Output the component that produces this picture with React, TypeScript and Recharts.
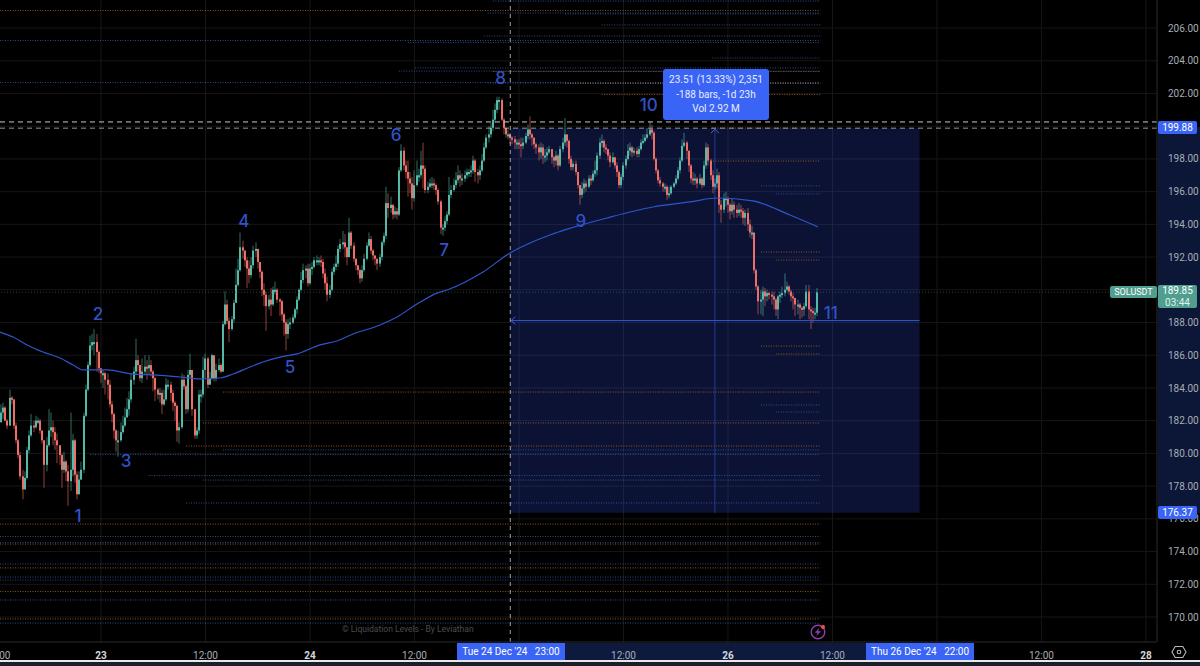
import {
  Bar,
  CartesianGrid,
  ComposedChart,
  Line,
  ReferenceArea,
  ReferenceDot,
  ReferenceLine,
  XAxis,
  YAxis,
} from 'recharts'

// SOLUSDT 15m closes, one row per 20 bars
const closes = [
  182.5,182.8,182.0,181.7,183.4,183.3,181.7,180.8,179.9,178.6,177.8,178.5,180.2,181.1,181.7,181.6,182.0,182.0,181.4,180.8,
  179.3,180.5,181.4,181.6,181.3,180.8,180.5,179.9,179.0,179.5,178.9,178.3,179.0,180.8,178.7,177.5,178.4,179.0,182.3,183.9,
  185.4,186.6,186.8,186.8,186.2,185.2,184.9,184.9,184.5,184.2,183.0,182.4,181.4,180.8,180.8,181.3,181.7,182.2,182.7,183.3,
  184.5,185.0,185.7,185.4,184.6,185.0,185.3,185.2,185.4,185.0,184.6,183.9,183.6,183.7,183.0,183.3,184.2,184.2,183.7,183.1,
  182.9,181.4,181.6,184.5,184.1,182.7,184.8,185.1,182.7,181.1,181.4,183.6,183.6,185.1,185.8,184.2,184.6,186.0,184.6,185.1,
  185.4,185.0,187.9,189.1,188.1,187.6,188.2,189.2,190.3,191.2,192.6,192.4,191.8,191.3,190.9,191.5,192.4,192.5,191.7,191.1,
  190.0,189.7,189.0,189.4,189.1,190.0,190.0,189.4,189.3,188.5,188.0,187.3,187.9,188.0,188.3,188.8,189.4,190.0,190.6,191.2,
  191.3,190.4,191.3,191.4,191.8,191.8,191.8,191.7,191.0,190.4,189.7,190.0,191.1,191.4,191.6,192.5,192.8,192.9,192.6,192.0,
  193.5,192.7,191.9,191.5,191.2,190.7,191.2,191.9,192.7,193.1,192.4,192.1,191.9,191.6,192.0,192.9,193.3,195.3,195.0,195.2,
  194.6,194.8,194.6,197.3,198.5,197.6,197.2,196.8,196.5,195.6,196.4,197.0,197.0,197.6,197.4,196.1,196.3,196.5,196.5,196.4,
  196.1,195.4,193.8,193.8,194.2,194.6,195.8,196.1,196.4,196.7,197.0,196.8,196.8,197.0,197.2,197.2,197.3,197.9,197.2,197.0,
  197.3,197.9,198.7,199.3,199.5,199.9,200.4,201.0,201.6,201.6,200.4,199.9,199.5,199.5,199.3,199.2,199.0,199.0,198.9,198.8,
  199.0,199.4,199.8,199.5,199.3,198.9,198.7,198.4,198.7,198.2,198.2,198.4,198.6,198.1,197.9,198.2,197.6,198.6,199.0,199.5,
  199.1,198.0,197.5,197.7,197.2,196.4,195.8,196.2,196.5,196.3,196.8,196.7,197.1,197.3,198.2,199.0,199.1,198.7,198.6,198.2,
  197.8,198.1,197.6,197.2,196.4,196.9,197.6,198.0,198.5,198.7,198.4,198.5,198.3,198.6,199.0,199.1,199.3,199.5,199.8,199.6,
  198.0,197.3,196.7,196.5,196.3,196.3,195.8,195.9,196.3,196.5,196.8,197.3,197.9,198.8,199.0,198.5,197.6,196.8,196.7,196.8,
  196.5,196.8,196.4,197.6,198.7,197.9,197.0,196.3,196.5,197.0,195.2,194.9,195.6,195.6,195.2,194.8,195.2,194.9,194.7,194.9,
  194.8,194.4,194.7,194.0,193.5,193.5,191.2,190.2,189.3,189.4,189.9,189.6,189.8,189.7,189.6,189.4,188.8,189.6,189.7,189.8,
  190.0,190.2,189.9,189.6,189.5,189.1,189.1,188.9,188.8,189.0,189.9,188.8,188.7,188.6,188.6,189.85,
]

const highs = [
  183.0,183.1,182.9,182.1,183.9,183.5,183.3,181.9,180.9,180.1,179.0,178.9,180.4,181.4,182.4,182.0,182.3,182.2,182.1,181.4,
  180.0,181.0,182.7,182.5,182.0,181.6,181.2,180.3,180.0,180.1,179.6,179.3,182.5,181.2,180.9,178.9,178.9,179.5,182.5,184.2,
  185.6,187.2,187.3,187.6,187.3,186.3,185.0,185.1,185.0,184.9,184.5,183.2,182.5,181.5,181.4,181.9,182.3,182.8,183.4,183.8,
  184.9,185.3,187.0,186.0,185.1,185.8,186.0,185.7,186.0,185.7,185.1,184.7,184.0,184.0,183.9,183.9,184.6,184.5,184.4,183.9,
  183.2,183.0,181.9,184.9,184.8,184.2,185.1,186.1,185.1,182.7,181.6,183.9,183.9,185.9,186.1,185.9,185.0,186.1,186.0,185.5,
  185.8,185.5,188.1,189.9,189.4,188.3,188.4,189.4,191.3,191.9,193.5,193.0,192.3,192.0,191.8,192.0,192.7,192.9,192.1,191.5,
  191.2,190.4,189.9,189.7,190.1,190.2,190.5,190.1,189.5,189.4,188.6,188.2,188.2,188.3,188.5,188.9,189.6,190.1,191.1,191.6,
  191.5,191.6,191.6,191.7,192.0,192.1,192.0,192.1,191.9,191.3,190.8,190.3,191.3,191.6,192.1,192.7,193.1,193.6,193.4,192.6,
  194.4,193.6,192.9,191.9,191.5,191.3,191.5,192.2,192.9,193.5,193.3,192.5,192.1,191.9,192.2,193.0,193.5,196.3,195.9,195.7,
  195.2,195.1,195.0,197.5,198.9,198.7,197.9,197.9,197.2,196.9,197.3,197.9,197.4,198.5,199.0,197.6,196.6,196.8,196.9,196.8,
  196.5,196.2,195.5,194.0,194.5,194.8,196.9,196.4,196.8,197.2,197.6,197.3,197.1,197.3,197.4,197.4,197.6,198.2,198.0,197.4,
  197.6,198.3,199.0,199.5,200.0,200.2,201.0,201.4,201.8,201.8,201.7,200.5,199.9,199.8,199.6,199.4,199.4,199.2,199.2,199.3,
  199.3,199.6,200.1,200.6,199.6,199.2,199.0,198.9,199.0,198.9,198.6,198.7,198.8,198.6,198.2,198.5,198.3,198.8,199.3,200.5,
  199.5,199.2,198.2,197.9,197.9,196.9,196.4,196.6,196.8,196.7,197.0,197.0,197.3,197.9,198.4,199.3,199.5,199.2,198.9,198.6,
  198.4,198.4,198.1,197.8,197.3,197.1,197.8,198.2,198.9,199.0,198.8,198.7,198.7,198.8,199.2,199.5,199.5,199.9,200.3,200.1,
  199.7,198.1,197.4,196.9,196.6,196.5,196.4,196.3,196.4,196.6,197.0,197.5,198.1,199.2,199.6,199.1,198.5,197.7,197.2,197.1,
  196.9,197.1,196.9,197.9,199.0,198.9,198.0,197.3,196.8,197.4,197.2,195.5,195.9,196.0,195.7,195.3,195.6,195.4,195.2,195.3,
  195.2,195.0,194.9,195.0,194.3,193.9,193.5,191.3,190.3,190.0,190.2,190.1,190.0,189.9,189.9,189.9,189.5,189.7,189.9,190.2,
  191.0,190.5,190.3,190.0,189.8,189.5,189.4,189.2,189.0,189.2,190.3,190.3,189.0,188.9,188.9,190.1,
]

const lows = [
  181.9,182.1,182.0,181.5,181.7,183.0,181.5,180.6,179.7,178.4,177.2,178.1,178.4,180.0,181.0,181.3,181.5,181.8,181.2,180.6,
  177.9,178.9,180.4,181.0,180.5,180.2,179.4,179.3,177.9,178.8,178.3,176.8,177.7,178.6,178.2,177.2,177.5,178.4,178.8,182.2,
  183.8,185.3,186.3,186.0,185.0,184.9,184.3,184.0,183.6,183.3,182.8,181.9,180.9,180.1,179.8,180.7,181.2,181.6,182.2,182.3,
  183.1,184.2,184.8,185.0,184.4,184.3,184.8,184.5,184.8,184.7,183.8,183.2,183.3,183.1,182.4,182.9,183.2,183.9,183.2,182.6,
  182.0,180.7,180.6,181.5,183.9,182.4,182.5,184.6,182.3,180.9,180.9,181.2,183.1,183.4,184.6,184.0,184.2,184.5,184.4,184.4,
  185.0,184.9,185.0,187.8,187.9,186.8,187.5,188.0,189.2,190.2,191.1,191.9,191.4,190.1,190.4,190.7,191.3,192.0,191.3,190.7,
  189.6,189.0,187.5,188.8,188.4,189.0,189.7,189.2,188.4,188.1,187.2,186.3,187.0,187.6,187.9,188.2,188.5,189.3,189.9,190.4,
  190.7,190.2,190.3,190.9,191.3,191.5,191.5,191.4,190.7,190.0,189.3,189.5,189.9,190.9,191.2,191.4,192.3,192.5,192.0,191.5,
  192.0,192.5,191.7,191.2,190.9,190.4,190.5,191.1,191.8,192.6,192.2,191.8,191.5,191.2,191.4,191.8,192.7,193.1,194.4,194.7,
  194.3,194.4,194.3,194.5,197.2,197.3,196.8,195.7,195.9,194.9,195.4,196.3,196.6,196.8,196.2,195.9,195.9,196.2,196.2,196.1,
  195.8,195.2,193.4,193.3,193.6,194.0,194.5,195.6,196.0,196.2,196.5,196.3,196.4,196.6,196.8,196.9,196.9,197.1,196.6,196.5,
  196.7,197.2,197.8,198.6,199.0,199.3,199.7,200.2,200.8,201.0,200.3,199.5,199.3,199.2,198.9,198.9,198.6,198.6,198.6,198.1,
  198.6,198.9,199.2,199.2,198.8,198.6,198.3,197.9,198.0,197.7,197.8,197.9,198.3,197.7,197.5,197.6,197.3,197.5,198.4,198.8,
  198.7,197.7,197.3,197.3,197.0,196.2,195.2,195.6,195.9,196.0,196.2,196.4,196.6,196.9,197.0,198.0,198.7,198.4,198.3,197.9,
  197.5,197.7,197.4,196.9,196.2,196.2,196.7,197.4,197.9,198.2,198.1,198.2,198.1,198.1,198.5,198.9,199.0,199.2,199.4,199.2,
  197.9,197.1,196.5,196.3,196.0,196.0,195.5,195.6,195.8,196.2,196.4,196.7,197.1,197.8,198.7,198.0,197.2,196.5,196.4,196.4,
  196.2,196.4,196.2,196.3,197.4,197.6,196.7,195.9,196.1,196.2,194.7,194.1,194.7,195.1,194.7,194.3,194.6,194.4,194.4,194.5,
  194.4,194.0,193.9,193.6,193.2,193.1,191.0,190.0,188.5,188.5,188.4,189.0,189.3,189.4,189.1,188.8,188.4,188.2,189.2,189.5,
  189.6,189.9,189.7,189.3,188.8,188.4,188.5,188.2,188.3,188.4,188.9,188.2,187.6,188.0,188.2,188.4,
]

// hours counted from 23 Dec 00:00
const firstHour = -11.5
const firstOpen = 181.9

const maHours = [-11.6,-10.1,-8.5,-6.66,-4.7,-3.2,-2.07,0.7,3.67,6.43,9.07,11.37,13.67,15.16,17.1,18.6,20.56,22.5,25.15,27.1,28.94,32.04,33.99,36.29,38.58,39.73,43.87,46.97,49.27,51.56,53.63,58.1,63.39,67.64,70.74,74.87,79.12,82.34]
const maValues = [187.42,187.11,186.63,186.2,185.83,185.4,185.1,185.1,184.85,184.79,184.67,184.55,184.61,184.85,185.28,185.59,185.89,186.08,186.63,186.87,187.3,187.85,188.34,189.13,189.8,189.99,191.09,192.25,192.86,193.35,193.72,194.39,195.06,195.37,195.61,195.43,194.57,193.84]

const blueLevels = [207.65,206.92,206.86,206.19,205.51,205.24,205.12,204.17,203.56,203.37,202.67,202.64,196.35,195.86,182.96,182.53,180.21,179.93,178.65,178.37,176.97,174.92,174.55,173.24,172.44,172.26,171.04,169.63]
const blueStarts = [45,44.4,53.3,57.5,44,-11.6,35.25,70.2,36.06,34.2,-11.6,44.4,75.8,77.5,75.8,77.5,14,-1.26,5.5,11.7,9.76,-11.6,-11.6,-11.6,-11.6,-11.6,-11.6,-11.6]
const orangeLevels = [207.07,203.34,202.61,201.94,199.89,197.87,192.31,191.82,186.56,186.08,183.75,181.86,180.45,175.68,174.46,173.0,171.56,169.88]
const orangeStarts = [-11.6,45,53.3,57.5,70.2,70,75.8,77.5,75.8,77.5,14,11.7,9.76,-11.6,-11.6,-11.6,-11.6,-11.6]
const levelEnd = 82.6

const waveLabels = ['1','2','3','4','5','6','7','8','9','10','11']
const waveHours = [-2.65,-0.35,2.87,16.4,21.7,33.9,39.4,45.9,55.1,62.9,83.8]
const wavePrices = [176.17,188.52,179.54,194.2,185.28,199.46,192.43,202.95,194.2,201.3,188.58]

const gridPrices = [170,172,174,176,178,180,182,184,186,188,190,192,194,196,198,200,202,204,206]
// 190 and 200 sit under the price tags in the reference, so they carry no label
const priceTicks = [170,172,174,176,178,180,182,184,186,188,192,194,196,198,202,204,206]
const hourTicks = [-11.05,0,12,24,36,60,72,84,108,120]
const hourLabels = ['00','23','12:00','24','12:00','12:00','26','12:00','12:00','28']
const gridHours = [0,12,24,36,48,60,72,84,96,108,120]
const dayTicks = ['23','24','26','28']

const boxStart = 47
const boxEnd = 94
const boxTop = 199.88
const boxBottom = 176.37
const boxMid = 188.12
const boxMidHour = 70.5
const crossPrice = 200.26
const lastPrice = 189.85

const candles = closes.map((close, i) => {
  const open = i === 0 ? firstOpen : closes[i - 1]
  const high = Math.max(highs[i], open, close)
  const low = Math.min(lows[i], open, close)
  return { hour: firstHour + i * 0.25, open, close, high, low, span: [low, high] }
})
const maData = maHours.map((hour, i) => ({ hour, ma: maValues[i] }))

const FONT = 'Roboto, sans-serif'
const WAVE_BLUE = '#2f52c6'
const LINE_BLUE = '#2f55cc'
const TAG_BLUE = '#3a64f5'
const TEAL_TAG = '#4f9e8f'

const Candle = (props: any) => {
  const { x, y, width, height, payload } = props
  const { open, close, high, low } = payload
  const k = high === low ? 0 : height / (high - low)
  const up = close >= open
  const color = up ? '#55b9a6' : '#ef6f68'
  const top = y + (high - Math.max(open, close)) * k
  const bodyH = Math.max(Math.abs(open - close) * k, 2)
  // snap to whole pixels, otherwise the thin bodies blur to a dull colour
  const left = Math.round(x + width / 2 - 1)
  return (
    <g>
      <rect x={left + 0.5} y={y} width={1} height={height} fill={color} fillOpacity={0.6} />
      <rect x={left} y={top} width={2} height={bodyH} fill={color} />
    </g>
  )
}

const TimeTick = (props: any) => {
  const { x, y, payload, index } = props
  const label = hourLabels[index] ?? String(payload.value)
  const isDay = dayTicks.includes(label)
  return (
    <text
      x={x}
      y={y + 6}
      textAnchor="middle"
      dominantBaseline="middle"
      fontFamily={FONT}
      fontSize={10}
      fontWeight={isDay ? 700 : 400}
      fill={isDay ? '#d5d7dd' : '#a9acb4'}
    >
      {label}
    </text>
  )
}

const ArrowUp = ({ cx, cy }: any) => (
  <path d={`M${cx - 4} ${cy + 5}L${cx} ${cy + 1}L${cx + 4} ${cy + 5}`} fill="none" stroke="#3f66e0" strokeWidth={1} />
)
const ArrowLeft = ({ cx, cy }: any) => (
  <path d={`M${cx + 5} ${cy - 4}L${cx + 1} ${cy}L${cx + 5} ${cy + 4}`} fill="none" stroke="#3f66e0" strokeWidth={1} />
)

const box = (left: number, top: number, width: number, height: number, extra: any = {}) => ({
  position: 'absolute' as const,
  left,
  top,
  width,
  height,
  fontFamily: FONT,
  ...extra,
})

const tag = (left: number, top: number, width: number, height: number, background: string) =>
  box(left, top, width, height, {
    background,
    color: '#fff',
    fontSize: 10,
    lineHeight: `${height}px`,
    textAlign: 'center',
    borderRadius: 2,
  })

export default function App() {
  return (
    <div style={{ position: 'fixed', left: 0, top: 0, width: 1200, height: 666, background: '#000', overflow: 'hidden' }}>
      {/* bands behind the axes */}
      <div style={box(1158, 127, 42, 386, { background: '#0c1738' })} />
      <div style={box(565, 643, 301, 17, { background: '#0d1a3e' })} />

      <div style={{ position: 'absolute', left: 0, top: 0 }}>
        <ComposedChart
          width={1200}
          height={660}
          data={candles}
          margin={{ top: 0, right: 0, bottom: 0, left: 0 }}
        >
          <CartesianGrid
            stroke="#161616"
            verticalValues={gridHours}
            horizontalValues={gridPrices}
          />
          <XAxis
            type="number"
            dataKey="hour"
            domain={[-11.6, 121.27]}
            allowDataOverflow
            ticks={hourTicks}
            interval={0}
            height={18}
            tick={<TimeTick />}
            tickLine={false}
            axisLine={{ stroke: '#2a2a2a' }}
          />
          <YAxis
            orientation="right"
            type="number"
            domain={[168.472, 207.714]}
            allowDataOverflow
            ticks={priceTicks}
            interval={0}
            width={43}
            tickFormatter={(v: number) => v.toFixed(2)}
            tick={{ fontFamily: FONT, fontSize: 10, fill: '#a9acb4' }}
            tickLine={false}
            tickMargin={5}
            axisLine={{ stroke: '#2a2a2a' }}
          />

          {/* liquidation levels */}
          {blueLevels.map((p, i) => (
            <ReferenceLine
              key={`b${i}`}
              segment={[{ x: blueStarts[i], y: p }, { x: levelEnd, y: p }]}
              stroke="#3f6cc4"
              strokeOpacity={0.7}
              strokeDasharray="1 1.5"
            />
          ))}
          {orangeLevels.map((p, i) => (
            <ReferenceLine
              key={`o${i}`}
              segment={[{ x: orangeStarts[i], y: p }, { x: levelEnd, y: p }]}
              stroke="#b06a22"
              strokeOpacity={0.8}
              strokeDasharray="1 1.5"
            />
          ))}
          <ReferenceLine y={lastPrice} stroke="#2f7a68" strokeOpacity={0.6} strokeDasharray="1 2" />

          <Bar dataKey="span" barSize={2} shape={<Candle />} isAnimationActive={false} />
          <Line
            data={maData}
            dataKey="ma"
            type="monotone"
            stroke={LINE_BLUE}
            strokeWidth={1.2}
            dot={false}
            activeDot={false}
            isAnimationActive={false}
          />

          {/* measure tool */}
          <ReferenceArea x1={boxStart} x2={boxEnd} y1={boxBottom} y2={boxTop} fill="#3a5cff" fillOpacity={0.2} stroke="none" />
          <ReferenceLine segment={[{ x: boxStart, y: boxMid }, { x: boxEnd, y: boxMid }]} stroke="#3058d8" strokeWidth={1} />
          <ReferenceLine segment={[{ x: boxMidHour, y: boxBottom }, { x: boxMidHour, y: boxTop }]} stroke="#3058d8" strokeOpacity={0.75} strokeWidth={0.8} />
          <ReferenceDot x={boxMidHour} y={boxTop} r={0} shape={<ArrowUp />} />
          <ReferenceDot x={boxStart} y={boxMid} r={0} shape={<ArrowLeft />} />

          {/* crosshair */}
          <ReferenceLine y={crossPrice} stroke="#c9c9c9" strokeDasharray="5 4" />
          <ReferenceLine y={boxTop} stroke="#c9c9c9" strokeOpacity={0.75} strokeDasharray="5 4" />
          <ReferenceLine x={boxStart} stroke="#c9c9c9" strokeOpacity={0.8} strokeDasharray="4 4" />

          {waveLabels.map((label, i) => (
            <ReferenceDot
              key={label}
              x={waveHours[i]}
              y={wavePrices[i]}
              r={0}
              fill="none"
              stroke="none"
              label={{ value: label, position: 'center', fill: WAVE_BLUE, fontSize: 17, fontWeight: 500, fontFamily: 'Inter, sans-serif' }}
            />
          ))}
        </ComposedChart>
      </div>

      {/* measure label */}
      <div style={box(663, 69, 106, 51, { background: TAG_BLUE, borderRadius: 3, color: '#e8edff', fontSize: 10, textAlign: 'center', lineHeight: '14.5px', paddingTop: 4, boxSizing: 'border-box' })}>
        <div>23.51 (13.33%) 2,351</div>
        <div>-188 bars, -1d 23h</div>
        <div>Vol 2.92 M</div>
      </div>

      {/* time axis tags */}
      <div style={box(457, 643, 108, 17, { background: TAG_BLUE, color: '#fff', fontSize: 10, lineHeight: '17px', textAlign: 'center', whiteSpace: 'pre' })}>{"Tue 24 Dec '24   23:00"}</div>
      <div style={box(866, 643, 108, 17, { background: TAG_BLUE, color: '#fff', fontSize: 10, lineHeight: '17px', textAlign: 'center', whiteSpace: 'pre' })}>{"Thu 26 Dec '24   22:00"}</div>

      {/* price axis tags */}
      <div style={tag(1158, 121, 39, 13, TAG_BLUE)}>199.88</div>
      <div style={tag(1158, 506, 39, 13, TAG_BLUE)}>176.37</div>
      <div style={tag(1110, 286, 47, 12, TEAL_TAG)}>
        <span style={{ fontSize: 9 }}>SOLUSDT</span>
      </div>
      <div style={box(1158, 285, 39, 23, { background: TEAL_TAG, color: '#fff', fontSize: 10, lineHeight: '11.5px', textAlign: 'center', borderRadius: 2 })}>
        <div>189.85</div>
        <div style={{ color: '#dff1ec' }}>03:44</div>
      </div>

      <div style={box(342, 623, 130, 12, { color: '#4c4c4c', fontSize: 8.5, lineHeight: '12px', whiteSpace: 'nowrap' })}>
        © Liquidation Levels - By Leviathan
      </div>

      <svg style={box(808, 622, 20, 20)} viewBox="0 0 20 20">
        <circle cx="10" cy="10" r="6.8" fill="none" stroke="#8a3fae" strokeWidth="1.4" />
        <path d="M11.5 5.5L6.8 10.8H9.6L8.2 14.5L13 9.2H10.2Z" fill="#8a3fae" />
        <circle cx="15" cy="5" r="2" fill="#f0524a" />
      </svg>
      <svg style={box(1171, 644, 16, 16)} viewBox="0 0 16 16">
        <path d="M4.2 2.5H11.8L15 8L11.8 13.5H4.2L1 8Z" fill="none" stroke="#b6b8be" strokeWidth="1.1" />
        <circle cx="8" cy="8" r="1.8" fill="none" stroke="#b6b8be" strokeWidth="1.1" />
      </svg>

      {/* bottom edge of the screenshot */}
      <div style={box(0, 660, 1200, 2, { background: '#e8e8e8' })} />
      <div style={box(0, 662, 1200, 4, { background: '#1b1f29' })} />
    </div>
  )
}
